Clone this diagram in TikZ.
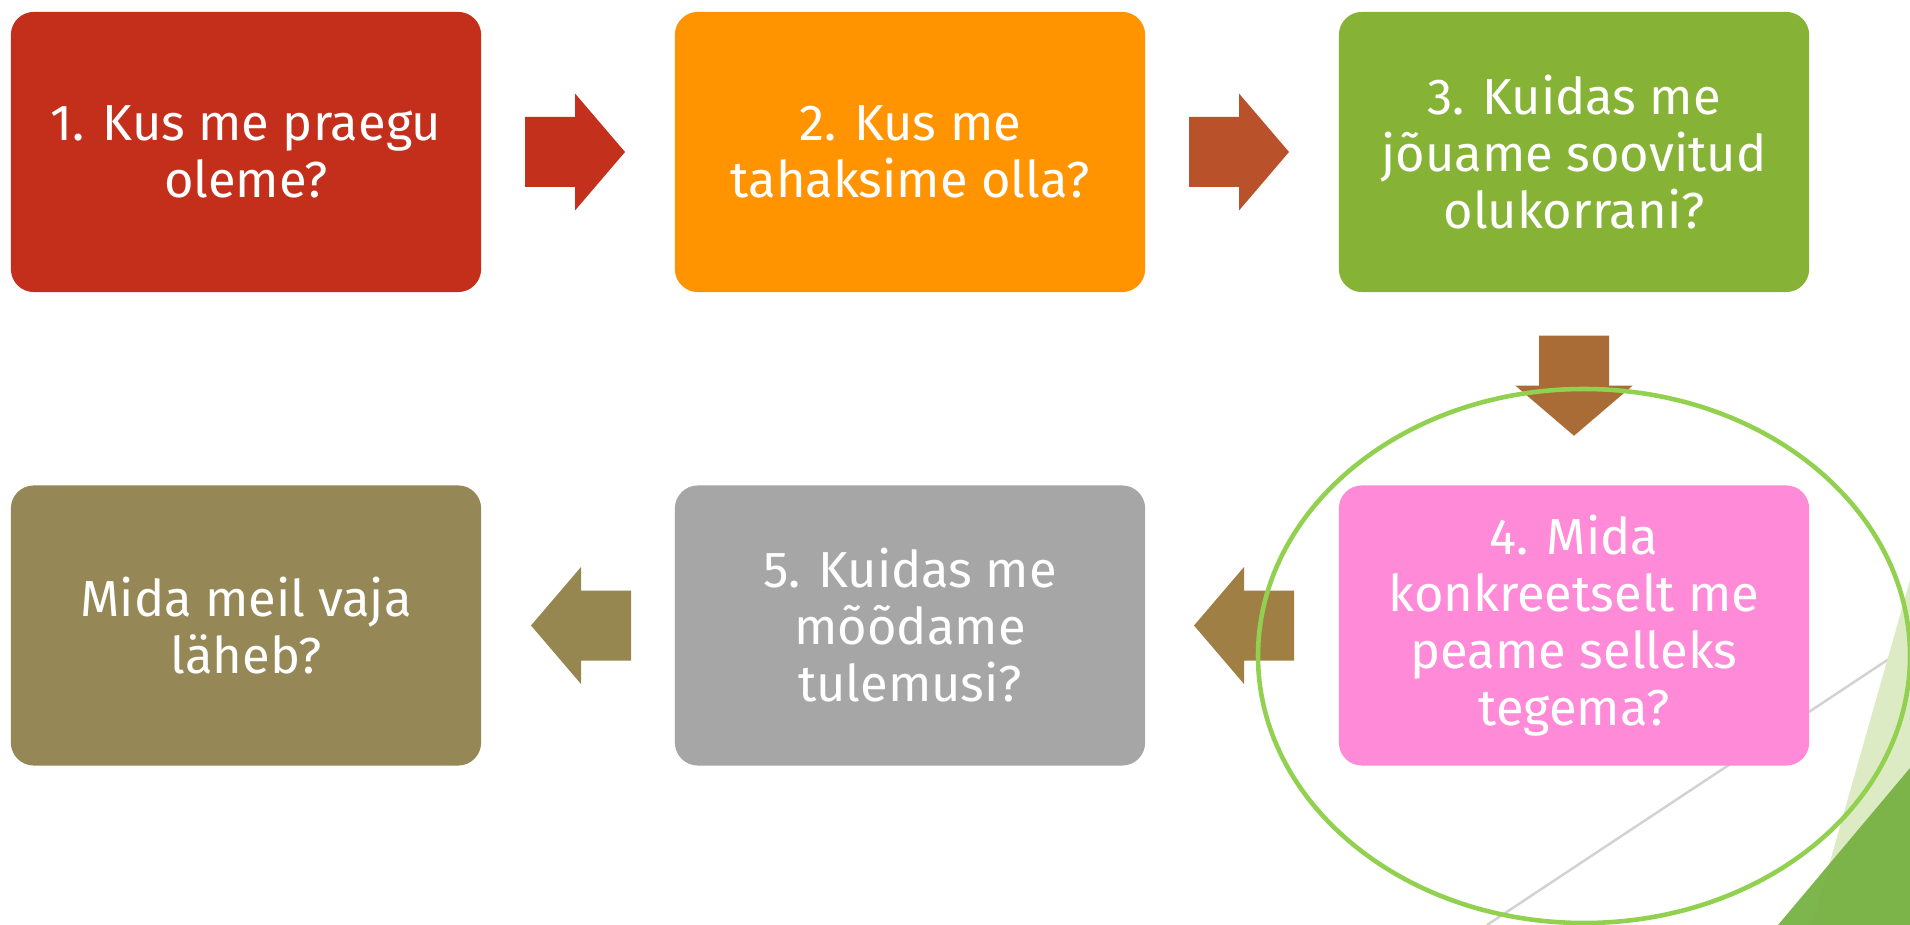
\documentclass[tikz,border=0pt]{standalone}
\usepackage{fontspec}
\setmainfont{Fira Sans}
\usetikzlibrary{calc}
\definecolor{c1}{HTML}{C32F1A}
\definecolor{c2}{HTML}{FF9300}
\definecolor{c3}{HTML}{86B336}
\definecolor{c4}{HTML}{FF8AD8}
\definecolor{c5}{HTML}{A6A6A6}
\definecolor{c6}{HTML}{958756}
\definecolor{a1}{HTML}{C3301B}
\definecolor{a2}{HTML}{B9522B}
\definecolor{a3}{HTML}{A96C36}
\definecolor{a4}{HTML}{A07F45}
\definecolor{a5}{HTML}{968650}
\definecolor{ringgreen}{HTML}{92D050}
\definecolor{lightgreen}{HTML}{DDEBC4}
\definecolor{darkgreen}{HTML}{74B03F}
\definecolor{thingray}{HTML}{D2D2D2}
\newcommand{\blockarrow}[3]{%
  \fill[#1, shift={#2}, rotate=#3] (-50,-35) -- (0,-35) -- (0,-58.5) -- (50,0) -- (0,58.5) -- (0,35) -- (-50,35) -- cycle;}
\tikzset{
  stepbox/.style={rectangle, rounded corners=0.23cm, minimum width=4.7cm, minimum height=2.8cm,
    inner sep=0pt, text=white, align=center, font=\fontsize{14.4}{16.2}\selectfont},
}
\begin{document}
\begin{tikzpicture}[x=0.01cm, y=-0.01cm]
\useasboundingbox (0,0) rectangle (1910,925);
\fill[white] (0,0) rectangle (1910,925);
% decorations
\draw[thingray, line width=0.7pt] (1487,925) coordinate (g1) -- (1910,645) coordinate (g2);
\fill[lightgreen] (1910,580) -- (1812,925) -- (1910,925) -- cycle;
\fill[darkgreen, opacity=0.92] (1910,768) -- (1778,925) -- (1910,925) -- cycle;
% boxes
\node[stepbox, fill=c1] (b1) at (246,152) {1. Kus me praegu\\oleme?};
\node[stepbox, fill=c2] (b2) at (910,152) {2. Kus me\\tahaksime olla?};
\node[stepbox, fill=c3] (b3) at (1574,152) {3. Kuidas me\\jõuame soovitud\\olukorrani?};
\node[stepbox, fill=c4] (b4) at (1574,625.5) {4. Mida\\konkreetselt me\\peame selleks\\tegema?};
\node[stepbox, fill=c5] (b5) at (910,625.5) {5. Kuidas me\\mõõdame\\tulemusi?};
\node[stepbox, fill=c6] (b6) at (246,625.5) {Mida meil vaja\\läheb?};
% arrows
\blockarrow{a1}{($(b1.east)!0.5!(b2.west)+(-3,0)$)}{0}
\blockarrow{a2}{($(b2.east)!0.5!(b3.west)+(-3,0)$)}{0}
\blockarrow{a3}{($(b3.south)!0.5!(b4.north)+(0,-3)$)}{-90}
\blockarrow{a4}{($(b4.west)!0.5!(b5.east)+(2,0)$)}{180}
\blockarrow{a5}{($(b5.west)!0.5!(b6.east)+(3,0)$)}{180}
% ring
\draw[ringgreen, line width=1.3pt] (1584,656) ellipse [x radius=326, y radius=267];
\end{tikzpicture}
\end{document}
